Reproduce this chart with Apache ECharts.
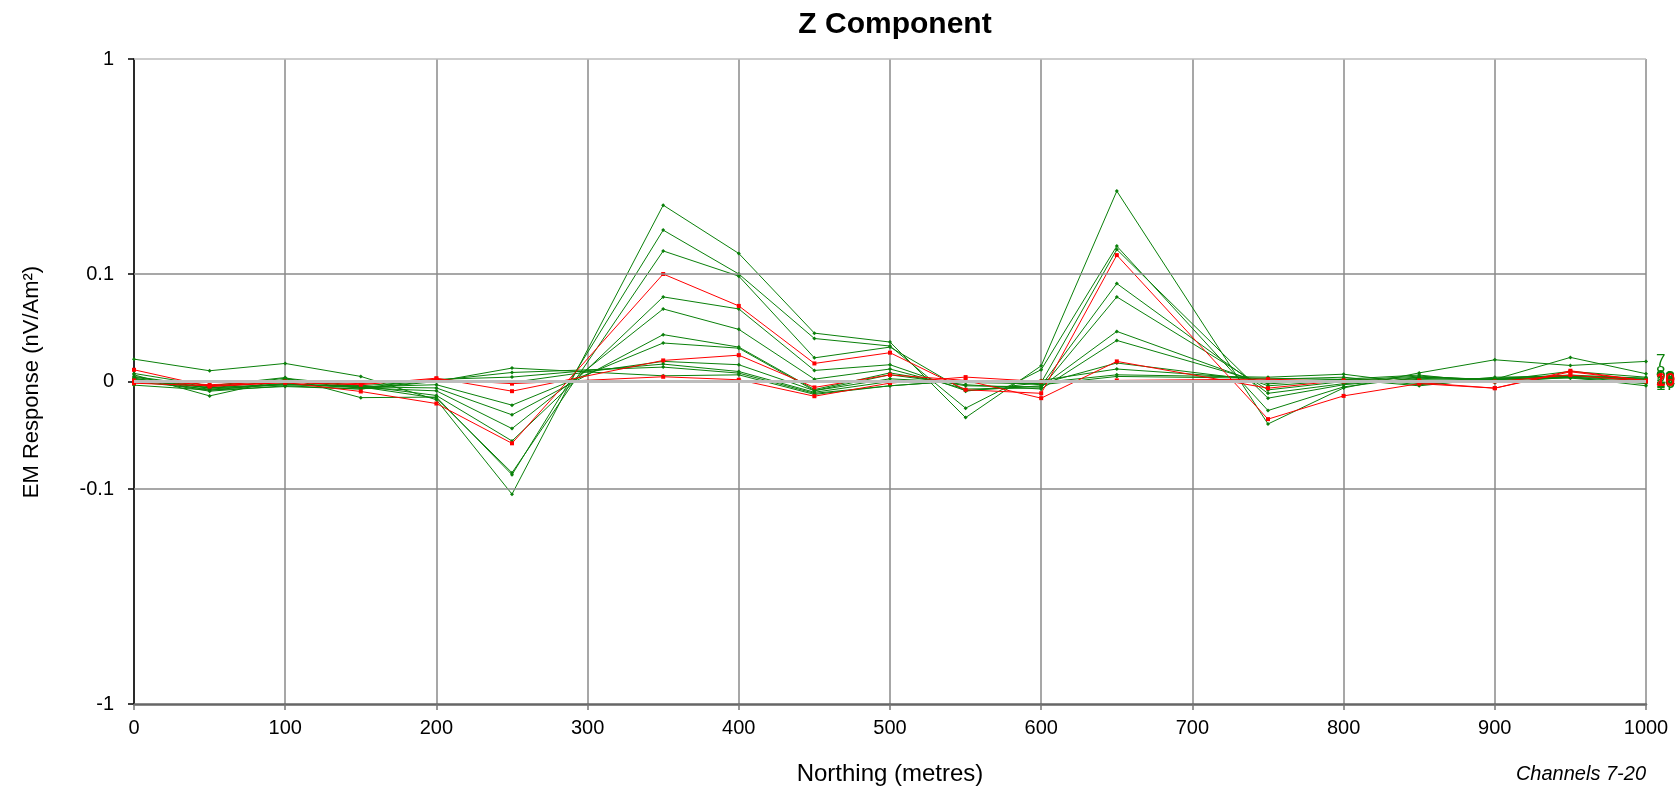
<!DOCTYPE html>
<html>
<head>
<meta charset="utf-8">
<title>Z Component</title>
<script src="https://cdn.jsdelivr.net/npm/echarts@6/dist/echarts.min.js"></script>
<style>
  html, body { margin: 0; padding: 0; background: #fff; }
  #chart { width: 1676px; height: 792px; }
</style>
</head>
<body>
<div id="chart"></div>
<script>
// northing stations (m); 300 and 700 were not read
const northing = [0, 50, 100, 150, 200, 250, 300, 350, 400, 450, 500, 550, 600, 650, 700, 750, 800, 850, 900, 950, 1000]

// EM response (nV/Am²) per channel
const ch7  = [0.0208, 0.0100, 0.0168, 0.0047, -0.0170, -0.1057, null, 0.209, 0.1246, 0.045, 0.0367, -0.0336, 0.0146, 0.243, null, -0.0395, -0.006, 0.008, 0.0202, 0.0149, 0.0187]
const ch8  = [0.0075, -0.004, 0.0037, -0.015, -0.0145, -0.0867, null, 0.160, 0.100, 0.040, 0.033, -0.0248, 0.011, 0.1348, null, -0.027, -0.005, 0.004, 0.002, 0.0224, 0.0072]
const ch9  = [0.0062, -0.0134, 0.0022, -0.005, -0.0155, -0.0849, null, 0.128, 0.098, 0.022, 0.032, -0.009, -0.001, 0.130, null, -0.0155, -0.003, 0.003, 0.001, 0.0094, 0.004]
const ch10 = [0.0109, -0.0047, -0.001, -0.0093, -0.0205, -0.0575, null, 0.100, 0.0703, 0.0168, 0.0268, -0.0077, -0.011, 0.1224, null, -0.035, -0.0134, -0.002, -0.0062, 0.010, 0.0007]
const ch11 = [0.0047, -0.005, 0.003, -0.004, -0.013, -0.0553, null, 0.0787, 0.0675, 0.0103, 0.0156, -0.0085, -0.004, 0.0911, null, -0.011, -0.002, 0.002, 0.003, 0.006, 0.003]
const ch12 = [0.0028, -0.006, 0.001, -0.006, -0.0087, -0.0438, null, 0.0675, 0.0485, 0.0022, 0.0116, -0.007, -0.006, 0.0787, null, -0.0078, 0.000, 0.004, 0.002, 0.005, 0.002]
const ch13 = [0.0016, -0.006, -0.002, -0.005, -0.006, -0.031, null, 0.0436, 0.032, -0.0075, 0.008, -0.004, -0.005, 0.0466, null, -0.004, 0.001, 0.005, 0.001, 0.004, 0.001]
const ch14 = [-0.0003, -0.007, -0.003, -0.005, -0.003, -0.022, null, 0.0358, 0.031, -0.0085, 0.0062, -0.003, -0.007, 0.0382, null, -0.0022, 0.0022, 0.006, -0.001, 0.004, -0.001]
const ch15 = [-0.0016, -0.004, -0.001, -0.003, 0.0031, -0.009, null, 0.0196, 0.0245, -0.0055, 0.0062, 0.001, -0.0155, 0.0187, null, -0.0062, 0.001, 0.001, 0.000, 0.006, 0.000]
const ch16 = [0.004, -0.006, -0.003, -0.004, 0.001, -0.0009, null, 0.0187, 0.0156, -0.0085, 0.0025, -0.001, -0.002, 0.0172, null, 0.000, 0.002, -0.004, 0.003, 0.0031, -0.002]
const ch17 = [0.003, -0.008, -0.002, -0.006, 0.002, 0.0041, null, 0.0162, 0.0093, -0.010, 0.000, 0.000, 0.001, 0.0116, null, 0.002, 0.004, -0.003, 0.002, 0.004, -0.004]
const ch18 = [0.002, -0.009, -0.004, -0.007, 0.001, 0.0084, null, 0.0134, 0.0078, -0.011, -0.004, 0.001, -0.001, 0.0062, null, 0.004, 0.0068, -0.002, 0.004, 0.005, 0.003]
const ch19 = [-0.0034, -0.008, -0.0047, -0.007, 0.000, 0.0125, null, 0.0053, 0.0062, -0.012, -0.004, 0.001, -0.003, 0.0047, null, 0.003, 0.002, -0.001, 0.002, 0.005, 0.002]
const ch20 = [0.001, -0.003, 0.000, -0.002, 0.002, -0.002, null, 0.0044, 0.0016, -0.0137, -0.0015, 0.0041, 0.000, 0.001, null, 0.0022, 0.000, -0.001, -0.0062, 0.009, 0.0007]

const channelNames = ['7', '8', '9', '10', '11', '12', '13', '14', '15', '16', '17', '18', '19', '20']
const channelValues = [ch7, ch8, ch9, ch10, ch11, ch12, ch13, ch14, ch15, ch16, ch17, ch18, ch19, ch20]
const redChannels = ['10', '15', '20']

// y tick values (nV/Am²)
const yTickValues = [-1, -0.1, 0, 0.1, 1]

// symmetric log: linear within ±0.1 (half a decade), log10 outside
const sym = (v) => {
  if (v === null) return null
  const a = Math.abs(v)
  if (a <= 0.1) return v / 0.2
  return Math.sign(v) * (0.5 + Math.log10(a / 0.1))
}
const yTicks = yTickValues.map(sym)
const tickLabel = (t) => {
  const i = yTicks.findIndex(k => Math.abs(k - t) < 1e-9)
  return i >= 0 ? String(yTickValues[i]) : ''
}

const FONT = '"Liberation Sans", Arial, sans-serif'
const GREEN = '#0a800a'
const RED = '#ff0000'

const chart = echarts.init(document.getElementById('chart'))

const dataSeries = channelNames.map((name, k) => {
  const isRed = redChannels.includes(name)
  const color = isRed ? RED : GREEN
  return {
    name: name,
    type: 'line',
    z: isRed ? 4 : 3,
    connectNulls: true,
    symbol: isRed ? 'rect' : 'diamond',
    symbolSize: 4,
    showSymbol: true,
    lineStyle: { color: color, width: 1 },
    itemStyle: { color: color },
    emphasis: { disabled: true },
    endLabel: {
      show: true,
      formatter: name,
      color: color,
      fontFamily: FONT,
      fontSize: 17,
      distance: 10
    },
    data: northing.map((x, i) => [x, sym(channelValues[k][i])])
  }
})

// horizontal grid lines drawn as mark lines
const gridSeries = {
  type: 'line',
  z: 1,
  silent: true,
  data: [],
  markLine: {
    silent: true,
    symbol: 'none',
    label: { show: false },
    animation: false,
    data: [
      { yAxis: sym(1), lineStyle: { color: '#bdbdbd', width: 1.5, type: 'solid' } },
      { yAxis: sym(0.1), lineStyle: { color: '#8a8a8a', width: 1.5, type: 'solid' } },
      { yAxis: sym(0), lineStyle: { color: '#bdbdbd', width: 3, type: 'solid' } },
      { yAxis: sym(-0.1), lineStyle: { color: '#8a8a8a', width: 1.5, type: 'solid' } }
    ]
  }
}

const option = {
  animation: false,
  backgroundColor: '#fff',
  textStyle: { fontFamily: FONT },
  title: {
    text: 'Z Component',
    left: 890,
    top: 5,
    textAlign: 'center',
    textStyle: { fontFamily: FONT, fontSize: 30, fontWeight: 'bold', color: '#000' }
  },
  grid: { left: 134, right: 30, top: 59, bottom: 88, containLabel: false },
  xAxis: {
    type: 'value',
    min: 0,
    max: 1000,
    interval: 100,
    axisLine: { show: true, onZero: false, lineStyle: { color: '#666', width: 2.5 } },
    axisTick: { show: true, length: 6, lineStyle: { color: '#777', width: 1.5 } },
    axisLabel: { color: '#000', fontFamily: FONT, fontSize: 20, margin: 14, formatter: (v) => String(v) },
    splitLine: { show: true, lineStyle: { color: '#8a8a8a', width: 1.5 } }
  },
  yAxis: {
    type: 'value',
    min: sym(-1),
    max: sym(1),
    axisLine: { show: true, onZero: false, lineStyle: { color: '#000', width: 1.5 } },
    axisTick: { show: true, length: 6, customValues: yTicks, lineStyle: { color: '#000', width: 1.5 } },
    axisLabel: {
      customValues: yTicks,
      color: '#000',
      fontFamily: FONT,
      fontSize: 20,
      margin: 20,
      formatter: (v) => tickLabel(v)
    },
    splitLine: { show: false }
  },
  graphic: [
    {
      type: 'text',
      x: 32,
      y: 382,
      rotation: Math.PI / 2,
      style: {
        text: 'EM Response (nV/Am²)',
        fontFamily: FONT,
        fontSize: 22,
        fill: '#000',
        textAlign: 'center',
        textVerticalAlign: 'middle'
      }
    },
    {
      type: 'text',
      x: 890,
      y: 774,
      style: {
        text: 'Northing (metres)',
        fontFamily: FONT,
        fontSize: 24,
        fill: '#000',
        textAlign: 'center',
        textVerticalAlign: 'middle'
      }
    },
    {
      type: 'text',
      x: 1646,
      y: 774,
      style: {
        text: 'Channels 7-20',
        fontFamily: FONT,
        fontSize: 20,
        fontStyle: 'italic',
        fill: '#000',
        textAlign: 'right',
        textVerticalAlign: 'middle'
      }
    }
  ],
  series: [gridSeries].concat(dataSeries)
}

chart.setOption(option)
</script>
</body>
</html>
